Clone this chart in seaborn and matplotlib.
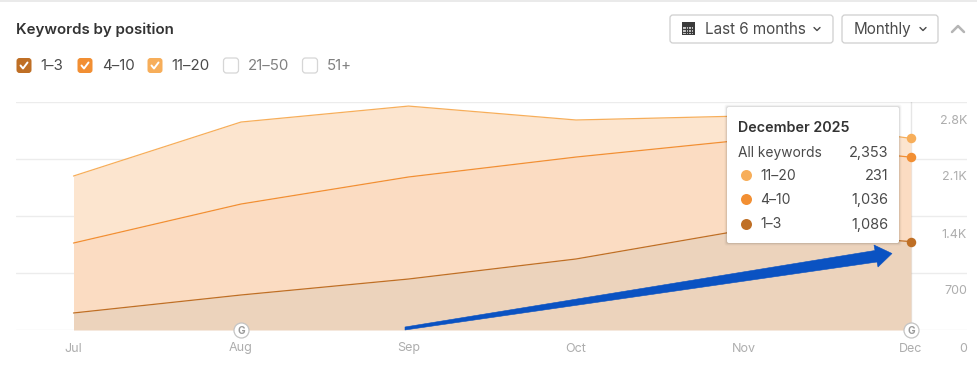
import numpy as np
import pandas as pd
import seaborn as sns
import matplotlib.pyplot as plt
from matplotlib.patches import FancyBboxPatch, Polygon, Rectangle
from matplotlib.transforms import ScaledTranslation

months = ["Jul", "Aug", "Sep", "Oct", "Nov", "Dec"]
pos_1_3 = [209, 430, 626, 872, 1228, 1086]
pos_4_10 = [859, 1117, 1253, 1252, 1105, 1036]
pos_11_20 = [823, 1007, 871, 455, 295, 231]
y_ticks = [0, 700, 1400, 2100, 2800]
y_labels = ["0", "700", "1.4K", "2.1K", "2.8K"]
google_months = ["Aug", "Dec"]

C1, C2, C3 = "#BF6F25", "#F28F33", "#F7AE5A"
GREY = "#adadad"

sns.set_theme(style="white")
plt.rcParams["font.family"] = ["Inter", "DejaVu Sans"]


def px(n):
    return n * 0.72


df = pd.DataFrame({"month": months, "a": pos_1_3, "b": pos_4_10, "c": pos_11_20})
df["x"] = range(len(df))
df["top_a"] = df["a"]
df["top_b"] = df["top_a"] + df["b"]
df["top_c"] = df["top_b"] + df["c"]

fig = plt.figure(figsize=(9.78, 3.68), dpi=100)
ax = fig.add_axes([16 / 978, 38 / 368, 951 / 978, 228 / 368])

ax.fill_between(df["x"], df["top_b"], df["top_c"], color="#FCE5CF", lw=0, zorder=1)
ax.fill_between(df["x"], df["top_a"], df["top_b"], color="#FBDCC2", lw=0, zorder=1)
ax.fill_between(df["x"], 0, df["top_a"], color="#ECD3BC", lw=0, zorder=1)

for col, c in [("top_c", C3), ("top_b", C2), ("top_a", C1)]:
    sns.lineplot(data=df, x="x", y=col, color=c, lw=0.9, ax=ax, zorder=3)

ax.set_xlim(-57.5 / 167.5, 5 + 56 / 167.5)
ax.set_ylim(0, 2800)
ax.set_xlabel("")
ax.set_ylabel("")
ax.set_xticks(df["x"], months)
ax.set_yticks(y_ticks, y_labels)
ax.yaxis.tick_right()
ax.tick_params(axis="x", length=0, pad=px(12.5), labelsize=px(12.5), labelcolor=GREY)
ax.tick_params(axis="y", length=0, pad=0, labelsize=px(12.5), labelcolor=GREY)
for lab in ax.get_yticklabels():
    lab.set_ha("right")
    lab.set_transform(lab.get_transform() + ScaledTranslation(0, -17 / 100, fig.dpi_scale_trans))
ax.grid(axis="y", color="black", alpha=0.075, lw=1, zorder=2)
ax.axvline(5, color="#e6e6e6", lw=1, zorder=0)
for s in ax.spines.values():
    s.set_visible(False)
ax.patch.set_alpha(0)

# Google update markers
for m in google_months:
    i = months.index(m)
    ax.scatter([i], [0], s=px(15) ** 2, c="white", edgecolors="#c4c4c4", linewidths=0.9, zorder=5, clip_on=False)
    ax.text(i, 0, "G", ha="center", va="center_baseline", fontsize=px(10), fontweight="bold", color="#9a9a9a", zorder=6)

# overlay in pixel space for the interface parts
ui = fig.add_axes([0, 0, 1, 1], zorder=5)
ui.set_xlim(0, 978)
ui.set_ylim(368, 0)
ui.axis("off")
ui.patch.set_alpha(0)
ui.plot([0, 978], [0.5, 0.5], color="#e6e6e6", lw=1.2)

ui.text(16.5, 30, "Keywords by position", fontsize=px(15.1), fontweight="semibold", color="#333333", va="center")


def checkbox(x, color, label, on=True):
    if on:
        ui.add_patch(FancyBboxPatch((x + 2, 60), 11, 11, boxstyle="round,pad=2,rounding_size=3", fc=color, ec="none"))
        ui.plot([x + 4, x + 6.5, x + 11], [65.5, 68.5, 62.5], color="white", lw=1.4, solid_capstyle="round")
        tc = "#4a4a4a"
    else:
        ui.add_patch(FancyBboxPatch((x + 2, 60), 11, 11, boxstyle="round,pad=2,rounding_size=3", fc="white", ec="#d6d6d6", lw=0.9))
        tc = "#808080"
    ui.text(x + 24.3, 66.3, label, fontsize=px(15), color=tc, va="center")


checkbox(16.5, C1, "1–3")
checkbox(77.5, C2, "4–10")
checkbox(147.5, C3, "11–20")
checkbox(223.5, "white", "21–50", on=False)
checkbox(302.5, "white", "51+", on=False)

# buttons
for x0, x1 in [(670, 833), (842, 938)]:
    ui.add_patch(FancyBboxPatch((x0 + 3, 18), x1 - x0 - 6, 22, boxstyle="round,pad=3,rounding_size=3", fc="white", ec="#cfcfcf", lw=0.9))
ui.add_patch(Rectangle((681.5, 22), 13, 13, fc="#3a3a3a", ec="none"))
ui.add_patch(Rectangle((683, 27), 10, 6.5, fc="#c9c9c9", ec="none"))
for yy in [29, 31.5]:
    ui.plot([683, 693], [yy, yy], color="#3a3a3a", lw=0.8)
for xx in [685.5, 688, 690.5]:
    ui.plot([xx, xx], [27, 33.5], color="#3a3a3a", lw=0.8)
ui.text(705, 29.5, "Last 6 months", fontsize=px(15.2), color="#4a4a4a", va="center")
ui.text(854, 29.5, "Monthly", fontsize=px(15.2), color="#4a4a4a", va="center")
for cx in [817, 923]:
    ui.plot([cx - 3, cx, cx + 3], [27.5, 30.5, 27.5], color="#4a4a4a", lw=1)
ui.plot([952, 958, 964], [32, 26, 32], color="#b5b5b5", lw=1.8)

# tooltip
for off, a in [(2.5, 0.03), (1.5, 0.05), (0.7, 0.07)]:
    ui.add_patch(FancyBboxPatch((729 - off, 109 - off), 168 + 2 * off, 132 + 2 * off, boxstyle="round,pad=2,rounding_size=2",
                                fc="black", ec="none", alpha=a))
ui.add_patch(FancyBboxPatch((729, 109), 168, 132, boxstyle="round,pad=2,rounding_size=2", fc="white", ec="none"))
ui.text(738.5, 128.5, "December 2025", fontsize=px(14.3), fontweight="semibold", color="#333333", va="center")
ui.text(738.5, 152.5, "All keywords", fontsize=px(13.8), color="#4a4a4a", va="center")
ui.text(888.5, 152.5, f"{df['top_c'].iloc[-1]:,}", fontsize=px(14.5), color="#4a4a4a", va="center", ha="right")
rows = [("11–20", pos_11_20, C3, 175), ("4–10", pos_4_10, C2, 199), ("1–3", pos_1_3, C1, 223.5)]
for name, vals, c, yy in rows:
    ui.scatter([746], [yy], s=px(11) ** 2, c=c, lw=0)
    ui.text(760.5, yy + 1, name, fontsize=px(14), color="#4a4a4a", va="center")
    ui.text(888.5, yy + 1, f"{vals[-1]:,}", fontsize=px(14.5), color="#4a4a4a", va="center", ha="right")

# hover dots on the last month, above the tooltip
ax2 = fig.add_axes(ax.get_position(), zorder=6, sharex=ax, sharey=ax)
ax2.axis("off")
ax2.patch.set_alpha(0)
last = df.iloc[[-1]]
for col, c in [("top_c", C3), ("top_b", C2), ("top_a", C1)]:
    sns.scatterplot(data=last, x="x", y=col, color=c, s=px(9.5) ** 2, linewidth=0, ax=ax2, clip_on=False)

# blue arrow
ui.add_patch(Polygon([(405, 327), (875, 250.5), (874, 245), (892, 253.5), (878, 267), (877, 262), (405, 330)],
                     closed=True, fc="#0A52C2", ec="#0A52C2", lw=0.4, zorder=10))

fig.savefig("out.png", dpi=100)
